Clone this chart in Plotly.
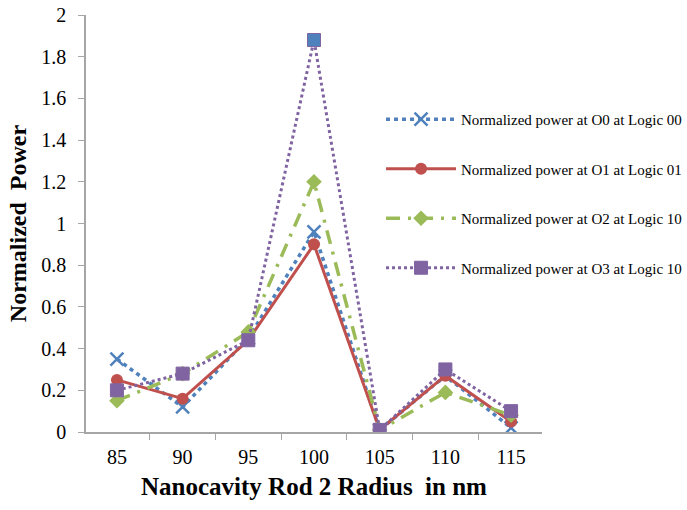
import plotly.graph_objects as go

# Nanocavity rod 2 radius (nm) used as categories
radius = ["85", "90", "95", "100", "105", "110", "115"]

# Normalized output power at each port
o0_logic00 = [0.35, 0.12, 0.45, 0.96, 0.01, 0.27, 0.02]
o1_logic01 = [0.25, 0.16, 0.44, 0.90, 0.01, 0.27, 0.05]
o2_logic10 = [0.15, 0.28, 0.48, 1.20, 0.01, 0.19, 0.08]
o3_logic10 = [0.20, 0.28, 0.44, 1.88, 0.01, 0.30, 0.10]

series_names = [
    "Normalized power at O0 at Logic 00",
    "Normalized power at O1 at Logic 01",
    "Normalized power at O2 at Logic 10",
    "Normalized power at O3 at Logic 10",
]

BLUE = "#4F81BD"
RED = "#C0504D"
GREEN = "#9BBB59"
PURPLE = "#8064A2"
SERIF = "Liberation Serif, Times New Roman, serif"

fig = go.Figure()

fig.add_trace(go.Scatter(
    x=radius, y=o0_logic00, name=series_names[0], mode="lines+markers",
    legendgroup="a",
    line=dict(color=BLUE, width=3.5, dash="4px,4px"),
    marker=dict(symbol="x-thin", size=13, color=BLUE, line=dict(color=BLUE, width=2.5)),
))
fig.add_trace(go.Scatter(
    x=radius, y=o1_logic01, name=series_names[1], mode="lines+markers",
    legendgroup="b",
    line=dict(color=RED, width=3),
    marker=dict(symbol="circle", size=12, color=RED),
))
fig.add_trace(go.Scatter(
    x=radius, y=o2_logic10, name=series_names[2], mode="lines+markers",
    legendgroup="c",
    line=dict(color=GREEN, width=3.5, dash="14px,8px,3px,8px"),
    marker=dict(symbol="diamond", size=12, color=GREEN),
))
# peak point of O3 is drawn in blue
o3_colors = [BLUE if v == max(o3_logic10) else PURPLE for v in o3_logic10]
fig.add_trace(go.Scatter(
    x=radius, y=o3_logic10, name=series_names[3], mode="lines+markers",
    legendgroup="d",
    line=dict(color=PURPLE, width=3, dash="dot"),
    marker=dict(symbol="square", size=13, color=o3_colors, line=dict(color=PURPLE, width=1)),
))

axis_line = "#A6A6A6"

fig.update_layout(
    width=687, height=510,
    margin=dict(l=86, r=145, t=15, b=78, autoexpand=False),
    paper_bgcolor="white", plot_bgcolor="white",
    font=dict(family=SERIF, color="black"),
    showlegend=True,
    legend=dict(
        x=0.647, y=0.789, xanchor="left", yanchor="top",
        bgcolor="rgba(0,0,0,0)",
        font=dict(family=SERIF, size=15, color="black"),
        traceorder="grouped", tracegroupgap=27,
        itemwidth=70,
    ),
    xaxis=dict(
        type="category", tickson="boundaries",
        showline=True, linecolor=axis_line, linewidth=1.5,
        ticks="outside", ticklen=6, tickcolor=axis_line,
        showgrid=False, zeroline=False,
        tickfont=dict(family=SERIF, size=20),
        ticklabelstandoff=6,
        title=dict(text="<b>Nanocavity Rod 2 Radius  in nm</b>",
                   font=dict(family=SERIF, size=25), standoff=11),
    ),
    yaxis=dict(
        range=[0, 2], dtick=0.2,
        showline=True, linecolor=axis_line, linewidth=1.5,
        ticks="outside", ticklen=6, tickcolor=axis_line,
        showgrid=False, zeroline=False,
        tickfont=dict(family=SERIF, size=20),
        ticklabelstandoff=8,
        title=dict(text="<b>Normalized  Power</b>",
                   font=dict(family=SERIF, size=24), standoff=8),
    ),
)

fig.write_html("out.html")
